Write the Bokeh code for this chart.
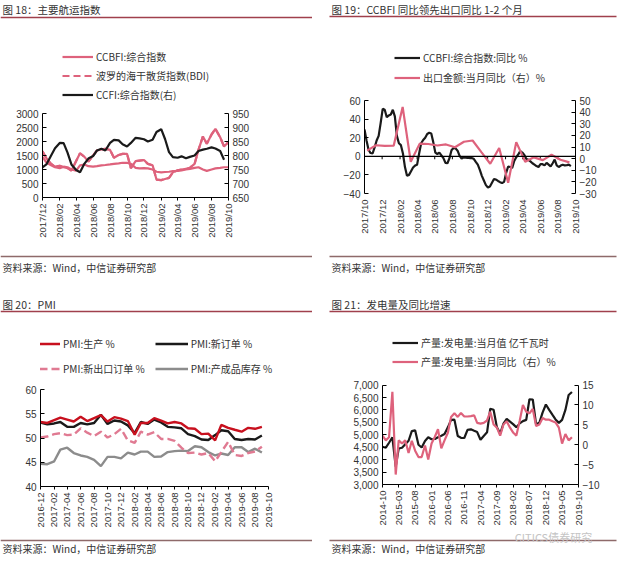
import numpy as np
import pandas as pd
from bokeh.plotting import figure
from bokeh.models import (Range1d, LinearAxis, Legend, LegendItem, FixedTicker,
                          DatetimeTickFormatter, NumeralTickFormatter, Span)
from bokeh.layouts import column, row
from bokeh.embed import file_html
from bokeh.resources import INLINE
from bokeh.core.properties import value

# ---------------- data ----------------
# Fig 18: shipping indices (semi-monthly readings)
f18_dates = pd.date_range("2017-12-01", periods=45, freq="SMS")
f18_ccbfi = [1450, 1250, 1150, 1080, 1050, 1100, 1080, 1000, 960, 1150, 1180, 1120, 1100, 1120,
             1150, 1160, 1180, 1200, 1220, 1240, 1240, 1200, 1060, 1040, 1050, 1040, 1000, 920,
             900, 910, 920, 940, 950, 970, 1000, 1020, 1060, 1080, 1000, 950, 1000, 1040, 1060,
             1080, 1080]
f18_bdi = [1650, 1400, 1200, 1100, 1130, 1080, 1050, 960, 1300, 1580, 1450, 1280, 1500, 1680,
           1720, 1740, 1700, 1420, 1520, 1560, 1560, 1050, 1300, 1320, 1340, 1200, 1150, 640,
           620, 660, 700, 900, 970, 1000, 1020, 1060, 1200, 1700, 2180, 1920, 2250, 2450, 2150,
           1820, 1980]
f18_ccfi = [758, 768, 800, 826, 845, 844, 810, 768, 748, 740, 771, 789, 798, 818, 824, 818,
            845, 856, 854, 840, 832, 845, 863, 861, 858, 850, 856, 884, 894, 858, 812, 794,
            792, 797, 790, 795, 800, 816, 821, 824, 829, 825, 816, 785]
f18_xticks = pd.date_range("2017-12-01", "2019-10-01", freq="2MS")
f18_lticks = [0, 500, 1000, 1500, 2000, 2500, 3000]
f18_rticks = [650, 700, 750, 800, 850, 900, 950]

# Fig 19: CCBFI yoy (weekly) vs export yoy (monthly)
f19_wdates = pd.date_range("2017-10-01", periods=103, freq="7D")
f19_ccbfi_yoy = [28.8, 17, 7, 3.5, 3, 9.5, 17, 22, 36, 51,
                 50, 42, 44, 45, 50, 43, 22, 14, 12, 3,
                 -11.6, -21, -20, -16, -12, -10, -9, 3, 14, 17.5,
                 20, 24, 25.3, 24.5, 15, 4, 2.5, 4, 1, -2,
                 -7, -7.5, -2, 6.5, 9, 8.5, 6, 0.5, -2.5, -1.2,
                 -1.5, -1.8, -1.8, -2, -2.7, -6, -9, -14.5, -21, -26,
                 -31, -33.5, -32.5, -28.5, -24.5, -25, -26.5, -27.8, -28.8, -27.5,
                 -18, -11, -11.5, -12.5, -5, -1, 2, 5.5, 4, 1.5,
                 -2.8, -3.8, -5.5, -7.5, -9, -10.5, -11.5, -8.5, -8.5, -9.8,
                 -7, -9, -11, -7.5, -3.5, -9.8, -11.5, -10, -9, -9.8,
                 -9.5, -9, -10.5]
f19_mdates = pd.date_range("2017-10-10", periods=24, freq=pd.DateOffset(months=1))
f19_export_yoy = [6.9, 11.5, 10.9, 11.1, 44.5, -2.7, 12.9, 12.6, 11.3, 12.2, 9.8, 14.5,
                  15.6, 5.4, -4.4, 9.1, -20.8, 14.2, -2.7, 1.1, -1.3, 3.3, -1.0, -3.2]
f19_xticks = pd.date_range("2017-10-01", "2019-10-01", freq="2MS")
f19_lticks = [-40, -20, 0, 20, 40, 60]
f19_rticks = [-30, -20, -10, 0, 10, 20, 30, 40, 50]

# Fig 20: PMI sub-indices (monthly, 2016-12 .. 2019-09)
f20_dates = pd.date_range("2016-12-01", periods=34, freq="MS")
f20_prod = [53.3, 53.1, 53.7, 54.2, 53.8, 53.4, 54.4, 53.5, 54.1, 54.7, 53.4, 54.3, 54.0,
            53.5, 50.7, 53.1, 53.1, 54.1, 53.6, 53.0, 53.3, 53.0, 52.0, 51.9, 50.8,
            50.9, 49.5, 52.7, 52.1, 51.7, 51.3, 52.1, 51.9, 52.3]
f20_neworder = [53.2, 52.8, 53.0, 53.3, 52.3, 52.3, 53.1, 52.8, 53.1, 54.8, 52.9, 53.6, 53.4,
                52.6, 51.0, 53.3, 52.9, 53.8, 53.2, 52.3, 52.2, 52.0, 50.8, 50.4, 49.7,
                49.6, 50.6, 51.6, 51.4, 49.8, 49.6, 49.8, 49.7, 50.5]
f20_export = [50.1, 50.3, 50.8, 51.0, 50.6, 50.7, 52.0, 51.1, 50.4, 51.3, 50.1, 50.8, 51.9,
              49.5, 49.0, 51.3, 50.7, 51.2, 49.8, 49.8, 49.4, 48.0, 46.9, 47.0, 46.6,
              46.9, 45.2, 47.1, 49.2, 46.5, 46.3, 46.9, 47.2, 48.2]
f20_inventory = [44.7, 44.6, 45.2, 47.6, 48.0, 46.9, 46.4, 46.1, 45.5, 44.2, 46.1, 46.1, 45.8,
                 47.0, 46.6, 47.2, 47.2, 46.1, 46.2, 47.1, 47.3, 47.4, 47.3, 48.3, 48.1,
                 47.1, 46.4, 46.8, 46.5, 48.1, 48.1, 47.1, 47.8, 47.0]
f20_xticks = pd.date_range("2016-12-01", "2019-10-01", freq="2MS")
f20_yticks = [40, 45, 50, 55, 60]

# Fig 21: power generation (monthly, 2014-10 .. 2019-08)
f21_dates = pd.date_range("2014-10-01", periods=59, freq="MS")
f21_output = [4520, 4480, 4680, 4900, 3720, 4450, 4480, 4620, 4760, 5150,
              5180, 4600, 4490, 4750, 4900, 4820, 4830, 4900, 4960, 5030,
              5300, 5600, 5610, 4950, 4880, 4870, 5200, 5220, 5160, 5110,
              4800, 4950, 5100, 6050, 6010, 5300, 5050, 5450, 5640, 5530,
              5420, 5300, 5460, 5550, 5600, 6430, 6420, 5420, 5480, 5900,
              6220, 6000, 5800, 5620, 5480, 5600, 6000, 6600, 6720]
f21_yoy = [2.3, 1.1, 1.9, 13.3, -7.5, 1.1, 0.3, 1.1, -2.1, 1.0,
           -1.5, -3.1, -3.1, -0.2, -3.7, 0.3, 2.0, 3.9, -0.9, 1.1,
           3.0, 7.0, 7.9, 7.0, 8.0, 7.1, 7.1, 7.2, 7.4, 5.5,
           5.3, 5.5, 6.1, 8.3, 5.1, 4.3, 2.3, 5.1, 5.9, 4.3,
           3.0, 2.3, 6.0, 10.0, 8.3, 7.9, 9.0, 4.7, 5.1, 6.7,
           6.3, 6.3, 5.9, 5.6, 4.3, 0.3, 2.7, 1.1, 1.9]
f21_xticks = pd.date_range("2014-10-01", "2019-10-01", freq="5MS")
f21_lticks = [3000, 3500, 4000, 4500, 5000, 5500, 6000, 6500, 7000]
f21_rticks = [-10, -5, 0, 5, 10, 15]

# ---------------- style ----------------
CJK = "Noto Sans CJK SC"
NUM = "Liberation Sans"
TXT = "#333333"
RULE = "#A0404C"
RULE2 = "#8E6A6A"
PINK = "#DE627C"
BLACK = "#1A1A1A"
RED = "#C8101E"
GREY = "#8C8C8C"
PW = 312


def ms(dates):
    return [int(pd.Timestamp(t).value // 10**6) for t in dates]


def band(h, text=None, tx=1, ty=0, ly=None, lx0=0, lx1=305, lc=RULE, size="10.5px"):
    f = figure(width=PW, height=h, x_range=Range1d(0, PW), y_range=Range1d(h, 0),
               x_axis_location=None, y_axis_location=None, toolbar_location=None,
               output_backend="svg", min_border=0, frame_align=False)
    f.title.visible = False
    f.grid.visible = False
    f.outline_line_color = None
    if ly is not None:
        f.segment(x0=[lx0], y0=[ly], x1=[lx1], y1=[ly], line_color=lc, line_width=1.3)
    if text:
        f.text(x=[tx], y=[ty], text=[text], text_baseline="middle", text_align="left",
               text_font=value(CJK), text_font_size=size, text_color=TXT)
    return f


def style_axis(ax, tin=4, tout=0):
    ax.axis_line_color = "black"
    ax.axis_line_width = 1
    ax.major_tick_line_color = "black"
    ax.major_tick_in = tin
    ax.major_tick_out = tout
    ax.minor_tick_line_color = None
    ax.major_label_text_font = NUM
    ax.major_label_text_font_size = "10px"
    ax.major_label_text_color = TXT
    ax.major_label_standoff = 4


def ext(lo, hi, plot_px, extra_px):
    # extend a value range so the frame also holds the legend strip
    return lo, hi + (hi - lo) * extra_px / plot_px


def chart(h, bl, br, bb, xr, yr):
    p = figure(width=PW, height=h, x_axis_type="datetime", x_range=xr, y_range=yr,
               toolbar_location=None, output_backend="svg", frame_align=False,
               min_border_left=bl, min_border_right=br, min_border_top=0, min_border_bottom=bb)
    p.title.visible = False
    p.xgrid.visible = False
    p.ygrid.visible = False
    p.outline_line_color = None
    return p


def xaxis_dates(p, ticks, fmt):
    ax = p.xaxis[0]
    ax.ticker = FixedTicker(ticks=ms(ticks))
    ax.formatter = DatetimeTickFormatter(days=fmt, months=fmt, years=fmt, hours=fmt,
                                         minutes=fmt, seconds=fmt, milliseconds=fmt,
                                         microseconds=fmt, hourmin=fmt, minsec=fmt)
    style_axis(ax, 0, 3)
    ax.major_label_orientation = np.pi / 2
    ax.major_label_text_font_size = "9.5px"
    ax.major_label_standoff = 3


def legend(items, vx, vy, spacing, gw, ncols=None, orient="vertical"):
    kw = {}
    if ncols:
        kw["ncols"] = ncols
    return Legend(items=items, location=(vx, vy), orientation=orient, glyph_width=gw,
                  glyph_height=15, label_height=15, label_width=10, spacing=spacing,
                  padding=0, margin=0, label_standoff=3, label_text_font=CJK,
                  label_text_font_size="10px", label_text_color=TXT,
                  background_fill_alpha=0, border_line_alpha=0, **kw)


SRC = "资料来源：Wind，中信证券研究部"

# ---------------- Fig 18 ----------------
h18 = band(22, "图 18：主要航运指数", tx=2, ty=9, ly=17, lx0=0, lx1=312)
lo, hi = ext(0, 3000, 84, 91)
p18 = chart(228, 42, 84, 53,
            Range1d(pd.Timestamp("2017-12-01"), pd.Timestamp("2019-10-01")), Range1d(lo, hi))
rlo, rhi = ext(650, 950, 84, 91)
p18.extra_y_ranges = {"r": Range1d(rlo, rhi)}
r_ccbfi = p18.line(f18_dates, f18_ccbfi, line_color=PINK, line_width=2.2)
r_bdi = p18.line(f18_dates, f18_bdi, line_color=PINK, line_width=2.2)
r_bdi_d = p18.line(f18_dates, f18_bdi, line_color=PINK, line_width=2.2, line_dash="7 4")
r_ccfi = p18.line(f18_dates[:len(f18_ccfi)], f18_ccfi, line_color=BLACK, line_width=2.2,
                  y_range_name="r")
p18.yaxis[0].ticker = FixedTicker(ticks=f18_lticks)
p18.yaxis[0].bounds = (f18_lticks[0], f18_lticks[-1])
style_axis(p18.yaxis[0])
ax18r = LinearAxis(y_range_name="r", ticker=FixedTicker(ticks=f18_rticks),
                   bounds=(f18_rticks[0], f18_rticks[-1]))
style_axis(ax18r)
p18.add_layout(ax18r, "right")
xaxis_dates(p18, f18_xticks, "%Y/%m")
p18.add_layout(legend([LegendItem(label="CCBFI:综合指数", renderers=[r_ccbfi]),
                       LegendItem(label="波罗的海干散货指数(BDI)", renderers=[r_bdi_d]),
                       LegendItem(label="CCFI:综合指数(右)", renderers=[r_ccfi])],
                      20, 95, 4, 31))
f18 = band(36, SRC, tx=2, ty=17, ly=6, lx0=0, lx1=312, lc=RULE2, size="10px")

# ---------------- Fig 19 ----------------
h19 = band(22, "图 19：CCBFI 同比领先出口同比 1-2 个月", tx=19, ty=9, ly=16, lx0=17, lx1=304)
lo, hi = ext(-40, 60, 93, 78)
p19 = chart(228, 52, 49, 57,
            Range1d(pd.Timestamp("2017-10-01"), pd.Timestamp("2019-10-01")), Range1d(lo, hi))
rlo, rhi = ext(-30, 50, 93, 78)
p19.extra_y_ranges = {"r": Range1d(rlo, rhi)}
p19.add_layout(Span(location=0, dimension="width", line_color="black", line_width=1.2))
# small tick marks hanging from the zero line at each labelled month
p19.segment(x0=f19_xticks, y0=0, x1=f19_xticks, y1=-3.2, line_color="black", line_width=1)
r19b = p19.line(f19_wdates, f19_ccbfi_yoy, line_color=BLACK, line_width=2.2)
r19p = p19.line(f19_mdates, f19_export_yoy, line_color=PINK, line_width=2.2, y_range_name="r")
p19.yaxis[0].ticker = FixedTicker(ticks=f19_lticks)
p19.yaxis[0].bounds = (f19_lticks[0], f19_lticks[-1])
style_axis(p19.yaxis[0])
ax19r = LinearAxis(y_range_name="r", ticker=FixedTicker(ticks=f19_rticks),
                   bounds=(f19_rticks[0], f19_rticks[-1]))
style_axis(ax19r)
p19.add_layout(ax19r, "right")
xaxis_dates(p19, f19_xticks, "%Y/%m")
p19.xaxis[0].axis_line_color = None
p19.xaxis[0].major_tick_line_color = None
p19.add_layout(legend([LegendItem(label="CCBFI:综合指数:同比 %", renderers=[r19b]),
                       LegendItem(label="出口金额:当月同比（右）%", renderers=[r19p])],
                      30, 108, 5, 26))
f19 = band(36, SRC, tx=19, ty=17, ly=6, lx0=17, lx1=304, lc=RULE2, size="10px")

# ---------------- Fig 20 ----------------
h20 = band(30, "图 20：PMI", tx=2, ty=18, ly=25, lx0=0, lx1=312)
lo, hi = ext(40, 60, 97, 73)
x20_start, x20_end = pd.Timestamp("2016-12-01"), pd.Timestamp("2019-10-01")
x20_ext = x20_end + (x20_end - x20_start) * 38 / 228   # frame reaches past the axis for the legend
p20 = chart(216, 40, 6, 46, Range1d(x20_start, x20_ext), Range1d(lo, hi))
r20i = p20.line(f20_dates, f20_inventory, line_color=GREY, line_width=2.4)
r20e = p20.line(f20_dates, f20_export, line_color="#E07A92", line_width=2.4, line_dash="8 4")
r20n = p20.line(f20_dates, f20_neworder, line_color=BLACK, line_width=2.4)
r20p = p20.line(f20_dates, f20_prod, line_color=RED, line_width=2.4)
p20.yaxis[0].ticker = FixedTicker(ticks=f20_yticks)
p20.yaxis[0].bounds = (f20_yticks[0], f20_yticks[-1])
style_axis(p20.yaxis[0])
xaxis_dates(p20, f20_xticks, "%Y-%m")
p20.xaxis[0].bounds = tuple(ms([x20_start, x20_end]))
p20.add_layout(legend([LegendItem(label="PMI:生产 %", renderers=[r20p]),
                       LegendItem(label="PMI:新订单 %", renderers=[r20n]),
                       LegendItem(label="PMI:新出口订单 %", renderers=[r20e]),
                       LegendItem(label="PMI:产成品库存 %", renderers=[r20i])],
                      -13, 110, 10, 33, ncols=2, orient="horizontal"))
f20 = band(23, SRC, tx=2, ty=16, ly=8, lx0=0, lx1=312, lc=RULE2, size="10px")

# ---------------- Fig 21 ----------------
h21 = band(30, "图 21：发电量及同比增速", tx=19, ty=18, ly=25, lx0=17, lx1=304)
lo, hi = ext(3000, 7000, 100, 69)
p21 = chart(212, 70, 46, 43,
            Range1d(pd.Timestamp("2014-10-01"), pd.Timestamp("2019-10-01")), Range1d(lo, hi))
rlo, rhi = ext(-10, 15, 100, 69)
p21.extra_y_ranges = {"r": Range1d(rlo, rhi)}
r21b = p21.line(f21_dates, f21_output, line_color=BLACK, line_width=2.2)
r21p = p21.line(f21_dates, f21_yoy, line_color=PINK, line_width=2.2, y_range_name="r")
p21.yaxis[0].ticker = FixedTicker(ticks=f21_lticks)
p21.yaxis[0].bounds = (f21_lticks[0], f21_lticks[-1])
p21.yaxis[0].formatter = NumeralTickFormatter(format="0,0")
style_axis(p21.yaxis[0])
ax21r = LinearAxis(y_range_name="r", ticker=FixedTicker(ticks=f21_rticks),
                   bounds=(f21_rticks[0], f21_rticks[-1]))
style_axis(ax21r)
p21.add_layout(ax21r, "right")
xaxis_dates(p21, f21_xticks, "%Y-%m")
p21.add_layout(legend([LegendItem(label="产量:发电量:当月值 亿千瓦时", renderers=[r21b]),
                       LegendItem(label="产量:发电量:当月同比（右）%", renderers=[r21p])],
                      10, 115, 4, 26))
f21 = band(27, SRC, tx=19, ty=20, ly=12, lx0=17, lx1=304, lc=RULE2, size="10px")
f21.text(x=[241], y=[8.5], text=["CITICS债券研究"], text_baseline="middle", text_align="center",
         text_font=value(CJK), text_font_size="11px", text_color="#c4c4c4")

layout = row(column(h18, p18, f18, h20, p20, f20, spacing=0),
             column(h19, p19, f19, h21, p21, f21, spacing=0), spacing=0)

open("out.html", "w").write(file_html(layout, INLINE))
